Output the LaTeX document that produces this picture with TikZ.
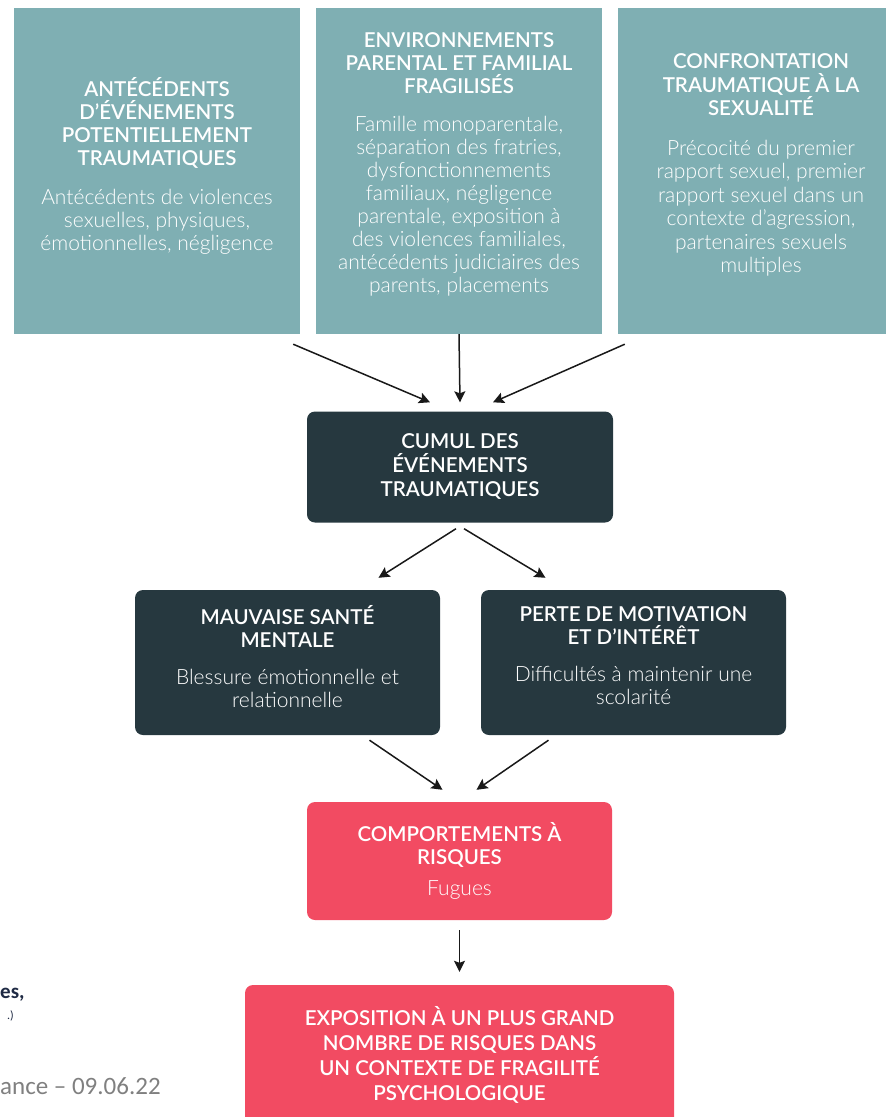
\documentclass[tikz,border=0pt]{standalone}
\usepackage{fontspec}
\setmainfont{Lato}
\newfontfamily\lightfont{Lato Light}
\newfontfamily\slidefont{Carlito}
\usetikzlibrary{arrows.meta}
\definecolor{tealbox}{RGB}{127,175,179}
\definecolor{slatebox}{RGB}{38,56,63}
\definecolor{pinkbox}{RGB}{242,75,98}
\definecolor{slidenavy}{RGB}{31,42,68}
\definecolor{slidegray}{RGB}{128,128,128}
\newcommand{\hd}[1]{{\fontsize{20.5}{23}\selectfont\bfseries #1}}
\newcommand{\lift}[1]{\rule[-#1]{0pt}{#1}}

\begin{document}
\begin{tikzpicture}[x=1pt,y=-1pt]
% Box style
\tikzset{
    box/.style={align=center, text=white, inner sep=0pt,
        font=\lightfont\fontsize{21}{23}\selectfont},
    topbox/.style={box, fill=tealbox, minimum width=286pt, minimum height=326pt},
    darkbox/.style={box, fill=slatebox, rounded corners=8pt, minimum width=305pt},
    pinkbox/.style={box, fill=pinkbox, rounded corners=8pt},
    arr/.style={-{Stealth[length=11pt,width=11pt,inset=2pt]}, line width=1.5pt, draw=black!90}
}
\useasboundingbox (0,0) rectangle (886,1117);

% Nodes
\node[topbox] (T1) at (157,171) {\hd{ANTÉCÉDENTS}\\\hd{D’ÉVÉNEMENTS}\\\hd{POTENTIELLEMENT}\\\hd{TRAUMATIQUES}\\[16pt]Antécédents de violences\\sexuelles, physiques,\\émotionnelles, négligence\lift{15pt}};
\node[topbox] (T2) at (459,171) {\hd{ENVIRONNEMENTS}\\\hd{PARENTAL ET FAMILIAL}\\\hd{FRAGILISÉS}\\[15pt]Famille monoparentale,\\séparation des fratries,\\dysfonctionnements\\familiaux, négligence\\parentale, exposition à\\des violences familiales,\\antécédents judiciaires des\\parents, placements\lift{17pt}};
\node[topbox, font=\lightfont\fontsize{21}{23.5}\selectfont] (T3) at (761,171) {\hd{CONFRONTATION}\\\hd{TRAUMATIQUE À LA}\\\hd{SEXUALITÉ}\\[16pt]Précocité du premier\\rapport sexuel, premier\\rapport sexuel dans un\\contexte d’agression,\\partenaires sexuels\\multiples\lift{15pt}};

\node[darkbox, minimum width=306pt, minimum height=111pt, font=\lightfont\fontsize{21}{24}\selectfont] (CUM) at (460,467) {\hd{CUMUL DES}\\\hd{ÉVÉNEMENTS}\\\hd{TRAUMATIQUES}};
\node[darkbox, minimum height=145pt] (MS) at (287.5,662.5) {\hd{MAUVAISE SANTÉ}\\\hd{MENTALE}\\[14pt]Blessure émotionnelle et\\relationnelle\lift{13pt}};
\node[darkbox, minimum height=145pt] (PM) at (633.5,662.5) {\hd{PERTE DE MOTIVATION}\\\hd{ET D’INTÉRÊT}\\[14pt]Difficultés à maintenir une\\scolarité\lift{13pt}};

\node[pinkbox, minimum width=305pt, minimum height=118pt] (CR) at (459.5,861) {\hd{COMPORTEMENTS À}\\\hd{RISQUES}\\[8pt]Fugues};
\node[pinkbox, minimum width=429pt, minimum height=140pt, font=\lightfont\fontsize{21}{25}\selectfont] (EXP) at (459.5,1055) {\hd{EXPOSITION À UN PLUS GRAND}\\\hd{NOMBRE DE RISQUES DANS}\\\hd{UN CONTEXTE DE FRAGILITÉ}\\\hd{PSYCHOLOGIQUE}};

% Cut slide texts
\node[anchor=base west, inner sep=0pt, text=slidenavy, font=\slidefont\bfseries\fontsize{21}{25}\selectfont] (SRC1) at (0,998) {es,};
\node[anchor=base east, inner sep=0pt, text=slidenavy, font=\slidefont\fontsize{12}{14}\selectfont] (SRC2) at (14,1019) {.)};
\node[anchor=base west, inner sep=0pt, text=slidegray, font=\slidefont\fontsize{25}{30}\selectfont] (DATE) at (0,1094) {ance – 09.06.22};

% Connections
\draw[arr] ([xshift=-7pt,yshift=-10pt]T1.south east) -- ([xshift=-30pt,yshift=9pt]CUM.north);
\draw[arr] (T2.south) -- ([yshift=9pt]CUM.north);
\draw[arr] ([xshift=7pt,yshift=-10pt]T3.south west) -- ([xshift=33pt,yshift=9pt]CUM.north);

\draw[arr] ([xshift=-4pt,yshift=-6pt]CUM.south) -- ([xshift=91pt,yshift=12pt]MS.north);
\draw[arr] ([xshift=4pt,yshift=-6pt]CUM.south) -- ([xshift=-88pt,yshift=12pt]PM.north);

\draw[arr] ([xshift=82pt,yshift=-5pt]MS.south) -- ([xshift=-17pt,yshift=12pt]CR.north);
\draw[arr] ([xshift=-85pt,yshift=-5pt]PM.south) -- ([xshift=17pt,yshift=12pt]CR.north);

\draw[arr] ([yshift=-10pt]CR.south) -- ([yshift=13pt]EXP.north);
\end{tikzpicture}
\end{document}
